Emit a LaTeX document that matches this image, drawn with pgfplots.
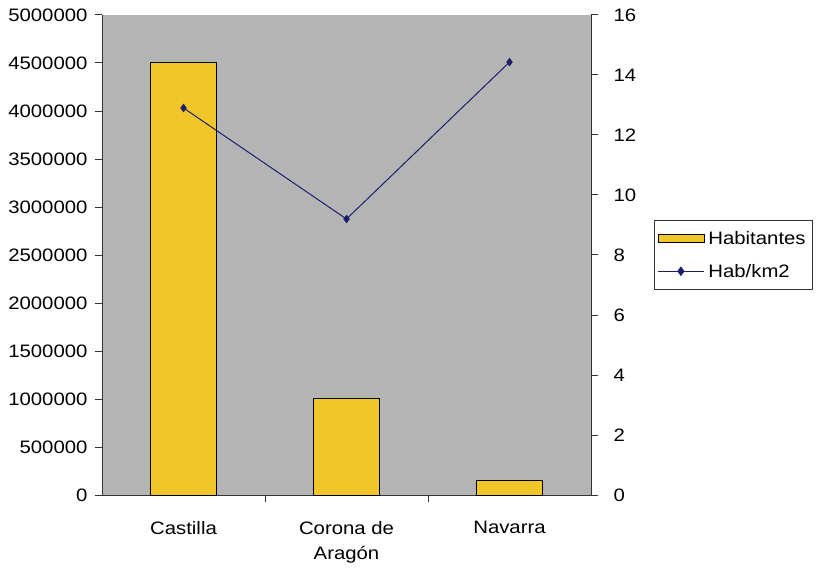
\documentclass[border=0pt]{standalone}
\usepackage{pgfplots}
\pgfplotsset{compat=1.18}
\usepackage{fontspec}
\setmainfont{Liberation Sans}[FakeStretch=1.13]
\definecolor{bgray}{RGB}{180,180,180}
\definecolor{baryel}{RGB}{240,198,40}
\definecolor{navy}{RGB}{30,30,110}
\begin{document}
\begin{tikzpicture}
\useasboundingbox (0,0) rectangle (821pt,568pt);
\pgfplotsset{
  every axis/.append style={
    at={(102pt,73pt)}, anchor=south west,
    scale only axis, width=489pt, height=480pt,
    font=\fontsize{18}{25}\selectfont,
    /pgf/number format/assume math mode=true,
    xmin=-0.5, xmax=2.5,
    axis line style={-, black!80, line width=1pt},
    every tick/.style={draw=black!80, line width=1pt},
    tick align=outside,
    major tick length=7pt,
  }
}
\begin{axis}[
  axis x line*=bottom, axis y line*=left,
  axis background/.style={fill=bgray},
  ymin=0, ymax=5000000,
  ytick={0,500000,...,5000000},
  scaled y ticks=false,
  yticklabel style={/pgf/number format/fixed, /pgf/number format/1000 sep={}, xshift=-4pt},
  xtick={0.5,1.5},
  xticklabels={},
  extra x ticks={0,1,2},
  extra x tick labels={Castilla, Corona de\\Aragón, Navarra},
  extra x tick style={major tick length=0pt, xticklabel style={align=center, yshift=-23pt}},
  xtick pos=bottom, ytick pos=left,
  ybar, bar width=66pt,
]
\addplot[fill=baryel, draw=black, line width=0.8pt] coordinates {(0,4510000) (1,1010000) (2,150000)};
\end{axis}
\begin{axis}[
  axis x line=none, axis y line*=right,
  ymin=0, ymax=16,
  ytick={0,2,...,16},
  ytick pos=right,
  yticklabel style={xshift=12pt},
  legend style={at={(1,0.5)}, anchor=west, xshift=63pt, draw=black!80, line width=0.8pt,
    font=\fontsize{18}{22}\selectfont, row sep=14pt, inner xsep=3pt, inner ysep=9pt,
    nodes={inner xsep=4pt}},
  legend cell align=left,
]
\addlegendimage{legend image code/.code={\draw[fill=baryel, draw=black, line width=0.8pt] (0pt,-4pt) rectangle (46pt,4pt);}}
\addlegendentry{Habitantes}
\addplot[navy, line width=1pt, mark=diamond*, mark size=3.5pt, mark options={fill=navy},
  legend image code/.code={\draw[navy, line width=1pt] (0pt,0pt) -- (46pt,0pt); \fill[navy] (23pt,4pt) -- (26pt,0pt) -- (23pt,-4pt) -- (20pt,0pt) -- cycle;}]
  coordinates {(0,12.9) (1,9.2) (2,14.43)};
\addlegendentry{Hab/km2}
\end{axis}
\end{tikzpicture}
\end{document}
